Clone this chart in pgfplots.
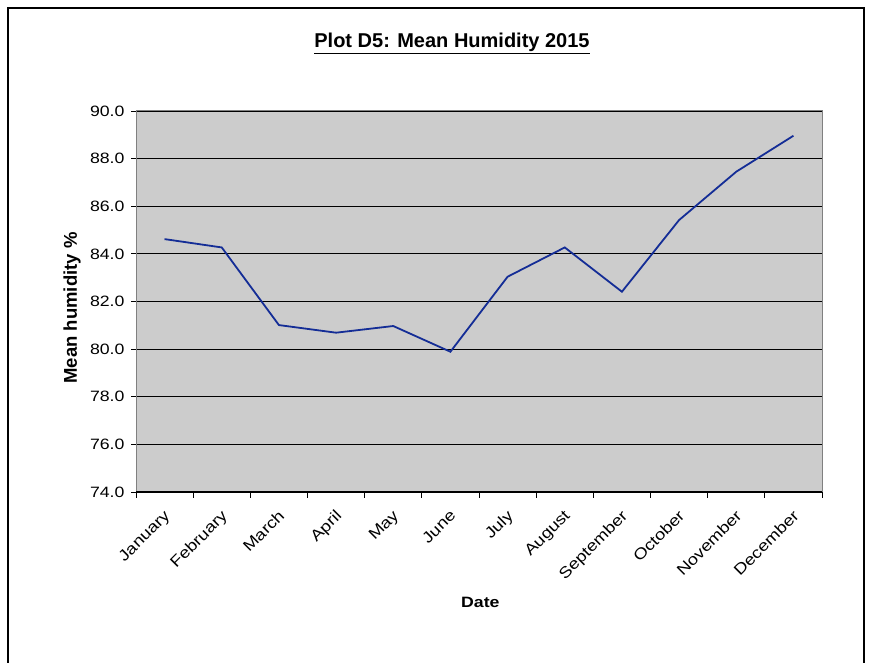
\documentclass[border=0pt]{standalone}
\usepackage{pgfplots}
\pgfplotsset{compat=1.18}
\usepackage{fontspec}
\setmainfont{Liberation Sans}
\newfontfamily\wide{Liberation Sans}[FakeStretch=1.18]
\definecolor{plotbg}{RGB}{204,204,204}
\definecolor{navyline}{RGB}{20,45,150}
\definecolor{bordergray}{RGB}{128,128,128}
\begin{document}
\begin{tikzpicture}
\path[use as bounding box] (0pt,0pt) rectangle (870pt,663pt);
\draw[line width=2.4pt] (8pt,-2pt) -- (8pt,655pt) -- (864pt,655pt) -- (864pt,-2pt);
\node[font=\fontsize{20}{24}\selectfont\bfseries] at (452pt,620pt) {\underline{Plot D5: Mean Humidity 2015}};
\begin{axis}[
  at={(136pt,171pt)}, anchor=south west,
  scale only axis, width=686pt, height=381pt,
  xmin=0.5, xmax=12.5, ymin=74, ymax=90,
  ytick={74,76,...,90},
  xtick={1,...,12},
  xticklabels={January,February,March,April,May,June,July,August,September,October,November,December},
  minor xtick={0.5,1.5,...,12.5},
  xtick pos=bottom, ytick pos=left,
  tick align=outside,
  major tick length=5pt, minor tick length=6pt,
  major x tick style={draw=none},
  every tick/.style={black, line width=0.8pt},
  minor x tick style={black, line width=0.8pt},
  axis background/.style={fill=plotbg},
  axis line style={bordergray, line width=1pt},
  ymajorgrids, major grid style={black, line width=0.9pt},
  /pgf/number format/assume math mode=true,
  yticklabel style={font=\wide\fontsize{15}{17}\selectfont, xshift=-3pt, /pgf/number format/.cd, fixed, fixed zerofill, precision=1},
  xticklabel style={font=\wide\fontsize{15.5}{17}\selectfont, xshift=-1.5pt, yshift=-7pt, rotate=45, anchor=north east},
  ylabel={Mean humidity \%},
  ylabel style={font=\fontsize{18.5}{20}\selectfont\bfseries, at={(axis description cs:-0.093,0.483)}, anchor=center, rotate=0},
  xlabel={Date},
  xlabel style={font=\wide\fontsize{15}{16}\selectfont\bfseries, at={(axis description cs:0.502,-0.289)}, anchor=center},
  clip=false,
]
\addplot[navyline, line width=1.8pt] coordinates {
(1,84.62) (2,84.27) (3,81.01) (4,80.69) (5,80.97) (6,79.89)
(7,83.04) (8,84.27) (9,82.41) (10,85.42) (11,87.45) (12,88.96)
};
\draw[black, line width=1pt] (rel axis cs:0,0) -- (rel axis cs:1,0);
\end{axis}
\end{tikzpicture}
\end{document}
